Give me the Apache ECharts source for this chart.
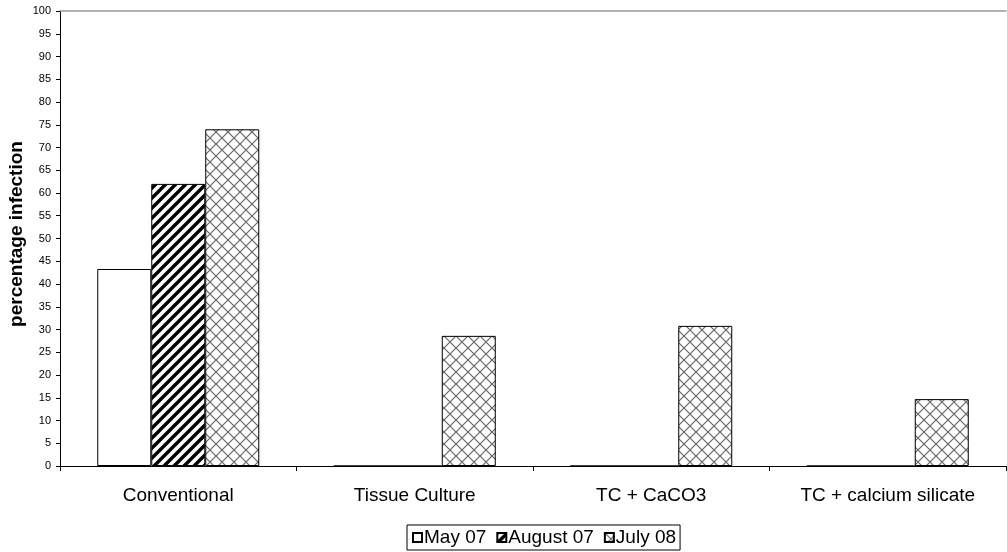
<!DOCTYPE html>
<html>
<head>
<meta charset="utf-8">
<script src="https://cdn.jsdelivr.net/npm/echarts@6/dist/echarts.min.js"></script>
<style>
  html, body { margin: 0; padding: 0; background: #fff; }
  #chart { width: 1007px; height: 552px; }
</style>
</head>
<body>
<div id="chart"></div>
<script>
// categories and values
const categories = ['Conventional', 'Tissue Culture', 'TC + CaCO3', 'TC + calcium silicate']
const may07 = [43.3, 0, 0, 0]
const august07 = [62, 0, 0, 0]
const july08 = [74, 28.6, 30.8, 14.7]
const seriesNames = ['May 07', 'August 07', 'July 08']
const yTitle = 'percentage infection'

// diagonal black stripes
function stripePattern() {
  const s = 10
  const c = document.createElement('canvas')
  c.width = s; c.height = s
  const ctx = c.getContext('2d')
  ctx.fillStyle = '#fff'
  ctx.fillRect(0, 0, s, s)
  ctx.strokeStyle = '#000'
  ctx.lineWidth = 3.4
  ctx.beginPath()
  ctx.moveTo(0, s); ctx.lineTo(s, 0)
  ctx.moveTo(-2, 2); ctx.lineTo(2, -2)
  ctx.moveTo(s - 2, s + 2); ctx.lineTo(s + 2, s - 2)
  ctx.stroke()
  return c
}

// gray cross-hatch
function crossPattern() {
  const s = 12
  const c = document.createElement('canvas')
  c.width = s; c.height = s
  const ctx = c.getContext('2d')
  ctx.fillStyle = '#fff'
  ctx.fillRect(0, 0, s, s)
  ctx.strokeStyle = '#666'
  ctx.lineWidth = 1.2
  ctx.beginPath()
  ctx.moveTo(0, 0); ctx.lineTo(s, s)
  ctx.moveTo(0, s); ctx.lineTo(s, 0)
  ctx.stroke()
  return c
}

const chart = echarts.init(document.getElementById('chart'))

const barStyle = (fill) => ({
  color: fill,
  borderColor: '#000',
  borderWidth: 1
})

const option = {
  animation: false,
  textStyle: { fontFamily: 'Liberation Sans, Arial, sans-serif', color: '#000' },
  grid: { left: 60, right: 1, top: 11, bottom: 86, outerBoundsMode: 'none' },
  // y axis title placed by hand so it sits closer to the labels
  graphic: [
    {
      type: 'text',
      x: 17,
      y: 234,
      rotation: Math.PI / 2,
      style: {
        text: yTitle,
        font: 'bold 19px "Liberation Sans", Arial, sans-serif',
        fill: '#000',
        align: 'center',
        verticalAlign: 'middle'
      }
    }
  ],
  legend: {
    data: seriesNames,
    top: 525,
    left: 407,
    icon: 'rect',
    itemWidth: 9,
    itemHeight: 9,
    itemGap: 10,
    padding: [3, 4, 3, 5],
    borderColor: '#000',
    borderWidth: 1,
    borderRadius: 0,
    textStyle: { fontSize: 19, color: '#000', padding: [0, 0, 0, -3] }
  },
  xAxis: [
    {
      type: 'category',
      data: categories,
      axisLine: { lineStyle: { color: '#000', width: 1 } },
      axisTick: { show: true, length: 5, lineStyle: { color: '#000' } },
      axisLabel: { fontSize: 19, color: '#000', margin: 20 }
    },
    {
      type: 'category',
      position: 'top',
      data: categories,
      axisLine: { lineStyle: { color: '#999', width: 1.5 } },
      axisTick: { show: false },
      axisLabel: { show: false }
    }
  ],
  yAxis: {
    type: 'value',
    min: 0,
    max: 100,
    interval: 5,
    axisLine: { show: true, lineStyle: { color: '#000' } },
    axisTick: { show: true, length: 4, lineStyle: { color: '#000' } },
    axisLabel: { fontSize: 11, color: '#000', margin: 9 },
    splitLine: { show: false }
  },
  series: [
    {
      name: seriesNames[0],
      type: 'bar',
      data: may07,
      barWidth: 54,
      barGap: '0%',
      itemStyle: barStyle('#fff')
    },
    {
      name: seriesNames[1],
      type: 'bar',
      data: august07,
      barWidth: 54,
      barGap: '0%',
      itemStyle: barStyle({ image: stripePattern(), repeat: 'repeat' })
    },
    {
      name: seriesNames[2],
      type: 'bar',
      data: july08,
      barWidth: 54,
      barGap: '0%',
      itemStyle: barStyle({ image: crossPattern(), repeat: 'repeat' })
    }
  ]
}

chart.setOption(option)
</script>
</body>
</html>
